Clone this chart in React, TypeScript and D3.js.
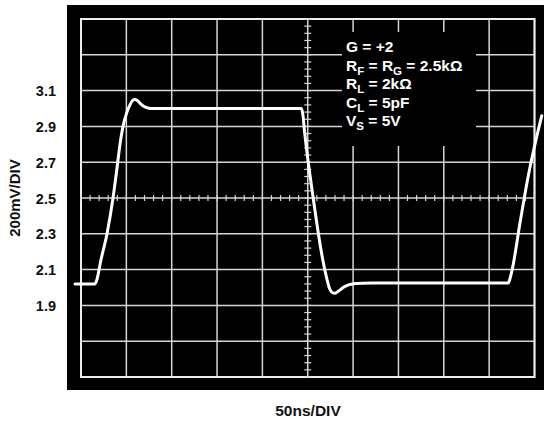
import React from 'react';
import * as d3 from 'd3';

// trace: time in ns, level in V
const timeNs = [-6.6, 15, 17, 19, 21, 28.7, 35.3, 40, 43, 46.3, 50, 54, 57, 59.5, 62, 66, 71, 78,
  243, 244.5, 246.5, 256, 266, 271, 274, 277, 280, 284, 289, 295, 303, 320,
  471, 473, 476, 484, 493, 508];
const volts = [2.02, 2.02, 2.035, 2.075, 2.13, 2.3, 2.5, 2.68, 2.8, 2.9, 2.97, 3.02, 3.045, 3.05, 3.045, 3.025, 3.008, 3.0,
  3.0, 2.97, 2.87, 2.5, 2.17, 2.05, 1.995, 1.972, 1.968, 1.98, 2.0, 2.015, 2.023, 2.025,
  2.025, 2.05, 2.115, 2.36, 2.62, 2.96];

const yTickLabels = ['3.1', '2.9', '2.7', '2.5', '2.3', '2.1', '1.9'];
const X_DIVS = 10;
const Y_DIVS = 10;
const NS_PER_DIV = 50;
const V_MIN = 1.5;
const V_MAX = 3.5;

// legend lines, [text, subscript] pairs
const legendLines: [string, string][][] = [
  [['G = +2', '']],
  [['R', 'F'], [' = R', 'G'], [' = 2.5kΩ', '']],
  [['R', 'L'], [' = 2kΩ', '']],
  [['C', 'L'], [' = 5pF', '']],
  [['V', 'S'], [' = 5V', '']],
];

const FONT = '"Liberation Sans", Arial, sans-serif';

export default function App() {
  const W = 544, H = 424;
  const plot = { left: 81, right: 534.5, top: 19, bottom: 377 };

  const x = d3.scaleLinear().domain([0, X_DIVS * NS_PER_DIV]).range([plot.left, plot.right]);
  const y = d3.scaleLinear().domain([V_MIN, V_MAX]).range([plot.bottom, plot.top]);

  const xGrid = d3.range(0, X_DIVS + 1).map(i => i * NS_PER_DIV);
  const yGrid = d3.range(0, Y_DIVS + 1).map(i => V_MIN + i * (V_MAX - V_MIN) / Y_DIVS);
  const xMinor = d3.range(0, X_DIVS * 5 + 1).map(i => i * NS_PER_DIV / 5);
  const yMinor = d3.range(0, Y_DIVS * 5 + 1).map(i => V_MIN + i * (V_MAX - V_MIN) / (Y_DIVS * 5));
  const xMid = x(250), yMid = y(2.5);

  const pts: [number, number][] = timeNs.map((t, i) => [t, volts[i]]);
  const line = d3.line<[number, number]>()
    .x(d => x(d[0]))
    .y(d => y(d[1]))
    .curve(d3.curveMonotoneX);

  const gridColor = '#d6d6d6';
  const SUB_DY = 4;

  return (
    <svg width={W} height={H} style={{ position: 'absolute', left: 0, top: 0, display: 'block', background: '#fff' }}
      fontFamily={FONT} fontWeight="bold">
      <rect x={67} y={5} width={W - 67} height={385} fill="#000" />

      {/* grid */}
      {xGrid.map(t => (
        <line key={'gx' + t} x1={x(t)} x2={x(t)} y1={plot.top} y2={plot.bottom} stroke={gridColor} strokeWidth={1.5} />
      ))}
      {yGrid.map(v => (
        <line key={'gy' + v} x1={plot.left} x2={plot.right} y1={y(v)} y2={y(v)} stroke={gridColor} strokeWidth={1.5} />
      ))}
      <rect x={plot.left} y={plot.top} width={plot.right - plot.left} height={plot.bottom - plot.top}
        fill="none" stroke="#eee" strokeWidth={2} />

      {/* minor ticks on the centre lines */}
      {xMinor.map(t => (
        <line key={'mx' + t} x1={x(t)} x2={x(t)} y1={yMid - 3} y2={yMid + 3} stroke={gridColor} strokeWidth={1.2} />
      ))}
      {yMinor.map(v => (
        <line key={'my' + v} x1={xMid - 3.5} x2={xMid + 3.5} y1={y(v)} y2={y(v)} stroke={gridColor} strokeWidth={1.2} />
      ))}

      {/* legend */}
      <rect x={342} y={32} width={134} height={114} fill="#000" />
      {legendLines.map((parts, i) => {
        let prevSub = false;
        const spans: React.ReactNode[] = [];
        parts.forEach(([txt, sub], j) => {
          spans.push(<tspan key={j + 'm'} dy={prevSub ? -SUB_DY : 0}>{txt}</tspan>);
          prevSub = false;
          if (sub) {
            spans.push(<tspan key={j + 's'} fontSize={11.5} dy={SUB_DY}>{sub}</tspan>);
            prevSub = true;
          }
        });
        return (
          <text key={'lg' + i} x={346} y={52 + i * 18.5} fill="#fff" fontSize={15.5}>{spans}</text>
        );
      })}

      {/* trace */}
      <path d={line(pts) || ''} fill="none" stroke="#fff" strokeWidth={3} strokeLinejoin="round" strokeLinecap="round" />

      {/* y labels */}
      {yTickLabels.map(s => (
        <text key={'yl' + s} x={56} y={y(+s) + 5.5} textAnchor="end" fontSize={14.5} fill="#111">{s}</text>
      ))}
      <text transform={`translate(20,${yMid}) rotate(-90)`} textAnchor="middle" fontSize={15} fill="#111">200mV/DIV</text>
      <text x={308} y={416} textAnchor="middle" fontSize={15.5} fill="#111">50ns/DIV</text>
    </svg>
  );
}
